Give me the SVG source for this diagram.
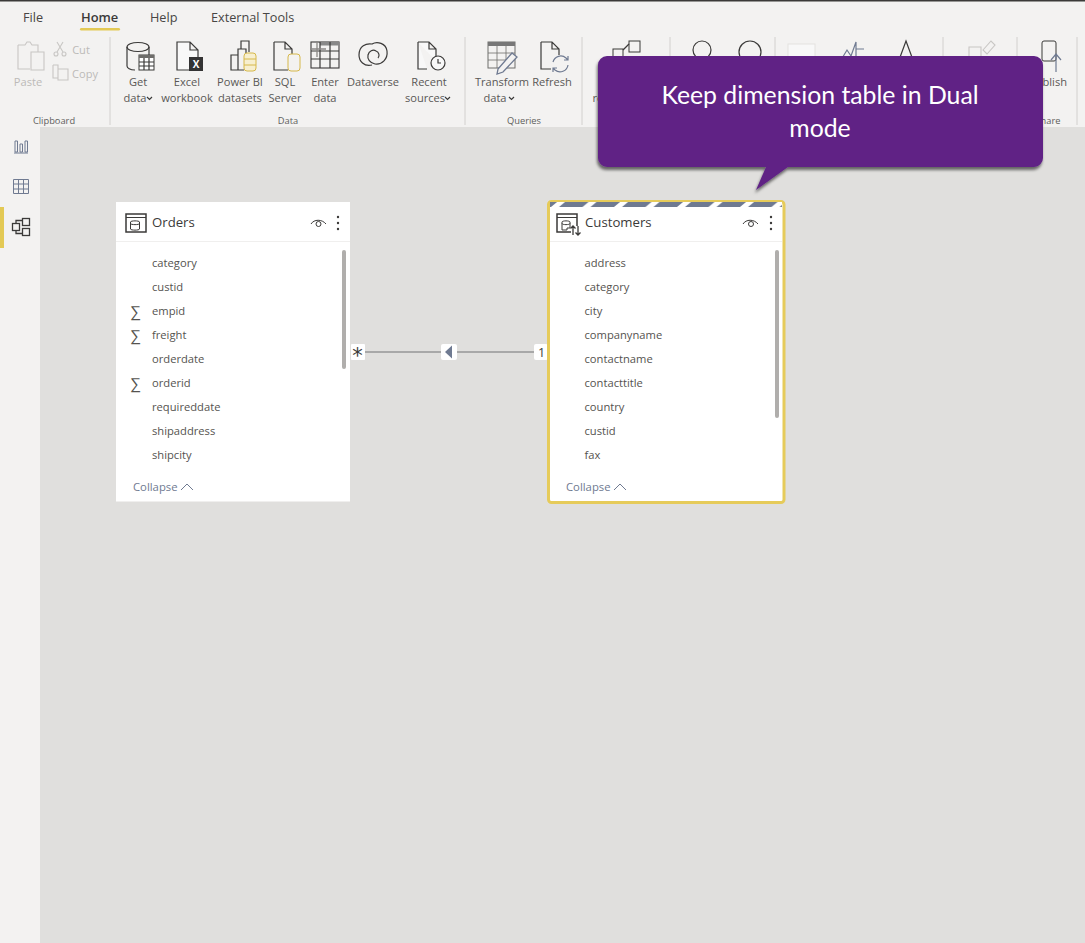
<svg xmlns="http://www.w3.org/2000/svg" width="1085" height="943" viewBox="0 0 1085 943">
<style>
text{font-family:"Open Sans","Noto Sans","Liberation Sans",sans-serif}
.tab{font-size:12.7px;fill:#484644}
.rb{font-size:11.1px;fill:#5a5856;text-anchor:middle}
.dim{font-size:11.1px;fill:#bcbab8;text-anchor:middle}
.grp{font-size:9.3px;fill:#605e5c;text-anchor:middle}
.sep{stroke:#d2d0ce;stroke-width:1}
.ic{fill:none;stroke:#3b3a39;stroke-width:1.2}
.icw{fill:#f8f8f8;stroke:#3b3a39;stroke-width:1.2}
.icd{fill:none;stroke:#c8c6c4;stroke-width:1.1}
.icg{fill:none;stroke:#6f7a91;stroke-width:1.2}
.gold{fill:#f7efcf;stroke:#d6b84a;stroke-width:1}
.title{font-size:13.2px;font-weight:500;fill:#3b3a39}
.f{font-size:11.2px;fill:#55534f}
.col{font-size:11.3px;fill:#6f7a91}
.sig{font-family:"Liberation Sans",sans-serif;font-size:15.5px;fill:#55534f}
.card{fill:#fff}
.bar{fill:#b0aeac}
.lbl{fill:#fff}
</style>
<defs>
<pattern id="stripe" patternUnits="userSpaceOnUse" x="551" y="202" width="31.5" height="5">
<rect width="31.5" height="5" fill="#6f7a91"/>
<polygon points="0,5 6,0 14,0 8,5" fill="#fff"/>
</pattern>
<filter id="sh" x="-5%" y="-10%" width="110%" height="125%">
<feDropShadow dx="-1" dy="3" stdDeviation="1.6" flood-color="#000" flood-opacity="0.55"/>
</filter>
</defs>
<rect id="canvas" width="1085" height="943" fill="#e0dfdd"/>
<rect id="rail" x="0" y="127" width="40" height="816" fill="#f3f2f1"/>
<rect id="ribbon" width="1085" height="127" fill="#f3f2f1"/>
<rect width="1085" height="1.5" fill="#3b3a39"/>
<g id="tabs">
<text class="tab" x="23" y="22">File</text>
<text class="tab" x="81" y="22" style="font-weight:600;fill:#3b3a39;font-size:12.9px">Home</text>
<rect x="80" y="28" width="40" height="2.500" rx="1.2" fill="#e3c955"/>
<text class="tab" x="150" y="22">Help</text>
<text class="tab" x="211" y="22">External Tools</text>
</g>
<g id="separators">
<line class="sep" x1="110" y1="37" x2="110" y2="125"/>
<line class="sep" x1="465" y1="37" x2="465" y2="125"/>
<line class="sep" x1="582" y1="37" x2="582" y2="125"/>
<line class="sep" x1="670" y1="37" x2="670" y2="125"/>
<line class="sep" x1="775" y1="37" x2="775" y2="125"/>
<line class="sep" x1="943" y1="37" x2="943" y2="125"/>
<line class="sep" x1="1017" y1="37" x2="1017" y2="125"/>
<line class="sep" x1="1077" y1="37" x2="1077" y2="125"/>
</g>
<g id="clipboard-group">
<path class="icd" d="M18 45h7l2-3h3l2 3h6v7M18 45v24h12M31 52h13v18h-13z"/>
<path class="icd" d="M57 42l6 10M63 42l-6 10"/><circle class="icd" cx="56" cy="54" r="2"/><circle class="icd" cx="64" cy="54" r="2"/>
<path class="icd" d="M53 65h5v4M53 65v13h5M58 69h10v11h-10z"/>
<text class="dim" x="28" y="86">Paste</text>
<text class="dim" x="81" y="54">Cut</text>
<text class="dim" x="85" y="78">Copy</text>
<text class="grp" x="54" y="124">Clipboard</text>
</g>
<g id="data-group">
<ellipse class="ic" cx="138" cy="47" rx="11" ry="4.500"/>
<path class="ic" d="M127 47v19c0 2 3 4 8 4M149 47v8"/>
<rect x="139" y="55" width="15" height="15" fill="#fff" stroke="#3b3a39"/>
<rect x="139" y="55" width="15" height="3" fill="#6e6d6b"/>
<path class="ic" stroke-width="0.8" d="M144 58v12M149 58v12M139 62h15M139 66h15"/>
<text class="rb" x="138" y="86">Get</text><text class="rb" x="135" y="102">data</text>
<path class="ic" d="M147 97l2.500 2.500 2.500-2.500"/>
<path class="icw" d="M177 42h13l8 8v20h-21z M190 42v8h8"/>
<rect x="189" y="57" width="14" height="14" fill="#333"/>
<text x="196" y="68" style="font-size:10px;font-weight:700;fill:#fff;text-anchor:middle">X</text>
<text class="rb" x="187" y="86">Excel</text><text class="rb" x="187" y="102">workbook</text>
<path class="ic" d="M231 70v-15h7v15zM238 70v-21h8v6M241 49v-8h8v11M231 70h13"/>
<rect class="gold" x="244" y="53" width="12" height="18" rx="3"/>
<path class="gold" d="M244 59h12M244 65h12"/>
<text class="rb" x="240" y="86">Power BI</text><text class="rb" x="240" y="102">datasets</text>
<path class="ic" d="M274 42h11l7 7v5M285 42v7h7M274 42v28h14"/>
<rect x="288" y="54" width="12" height="17" rx="3" fill="#f3f2f1" stroke="#d6b84a"/>
<text class="rb" x="285" y="86">SQL</text><text class="rb" x="285" y="102">Server</text>
<rect x="311" y="42" width="28" height="26" fill="none" stroke="#3b3a39" stroke-width="1.1"/>
<rect x="320" y="42" width="19" height="3.500" fill="#888"/>
<path class="ic" stroke-width="0.9" d="M320 42v26M330 42v26M311 51h28M311 59h28"/>
<path d="M317 41v16M310 49h16" stroke="#8a8886" stroke-width="1.300" fill="none"/>
<text class="rb" x="325" y="86">Enter</text><text class="rb" x="325" y="102">data</text>
<path class="ic" stroke-width="1.600" d="M372 65c-8 2-13-4-13-10 0-9 7-12 13-11 5-3 14-1 15 7 1 8-5 14-12 13-5-1-8-5-7-9 1-4 5-6 8-4 3 1 4 5 2 7"/>
<text class="rb" x="373" y="86">Dataverse</text>
<path class="icw" d="M418 42h11l7 7v12M429 42v7h7M418 42v27h9"/>
<circle class="icw" cx="438" cy="63" r="7"/><path class="ic" d="M438 59v4h3"/>
<text class="rb" x="429" y="86">Recent</text><text class="rb" x="425" y="102">sources</text>
<path class="ic" d="M445 97l2.500 2.500 2.500-2.500"/>
<text class="grp" x="288" y="124">Data</text>
</g>
<g id="queries-group">
<rect x="488" y="42" width="27" height="26" fill="none" stroke="#6f6e6c" stroke-width="1"/>
<rect x="488" y="42" width="27" height="4" fill="#777"/>
<path d="M497 46v22M506 46v22M488 53h27M488 60h27" fill="none" stroke="#6f6e6c" stroke-width="0.8"/>
<path d="M498 69l14-16 5 4-14 15-6 2z" fill="#f3f2f1" stroke="#6f7a91" stroke-width="1.300"/>
<text class="rb" x="502" y="86">Transform</text><text class="rb" x="495" y="102">data</text>
<path class="ic" d="M509 97l2.500 2.500 2.500-2.500"/>
<path class="ic" d="M541 42h11l7 7v6M552 42v7h7M541 42v27h10"/>
<path class="icg" d="M553 62a8 8 0 0 1 13-4l2 2M568 65a8 8 0 0 1-13 5l-2-2M568 56v4h-4M553 72v-4h4"/>
<text class="rb" x="552" y="86">Refresh</text>
<text class="grp" x="524" y="124">Queries</text>
</g>
<g id="covered-ribbon">
<rect x="613" y="49" width="10" height="8" fill="none" stroke="#3b3a39"/>
<rect x="629" y="41" width="11" height="11" fill="none" stroke="#3b3a39"/>
<path class="ic" d="M623 50l6-6"/>
<text class="rb" x="626" y="102">relationships</text>
<circle class="ic" cx="702" cy="50" r="9"/>
<circle class="ic" cx="750" cy="52" r="11"/>
<rect x="788" y="44" width="27" height="14" fill="#f8f8f8" stroke="#e4e2e0"/>
<path class="icg" d="M841 60l6-10 4 6 5-14v18M856 49h8"/>
<path class="ic" stroke-width="1.600" d="M899 60l7-19 7 19"/>
<path class="icd" d="M969 47h12v12h-12zM983 50l8-9 4 4-8 9z"/>
<rect x="1042" y="41" width="14" height="20" rx="2" fill="none" stroke="#3b3a39"/>
<path class="icg" d="M1056 72v-18M1051 60l5-6 5 6"/>
<text class="rb" x="1048" y="86">Publish</text>
<text class="grp" x="1048" y="124">Share</text>
</g>
<g id="view-rail">
<rect x="0" y="207" width="4" height="41" fill="#e3c955"/>
<path d="M14 153h14M15 152v-11h2.500v11zM20 152v-8h2.500v8zM25 152v-11h2.500v11z" fill="none" stroke="#6f7a91" stroke-width="1"/>
<path d="M13.500 179.500h15v14h-15zM13.500 184h15M13.500 189h15M18.500 179.500v14M23.500 179.500v14" fill="none" stroke="#6f7a91"/>
<g fill="none" stroke="#3b3a39" stroke-width="1.300"><rect x="12.500" y="223.500" width="7" height="7"/><rect x="22.500" y="218.500" width="7" height="7"/><rect x="22.500" y="228.500" width="7" height="7"/><path d="M16 223.500v-3h6.500M16 230.500v3h6.500"/></g>
</g>
<g id="connectors">
<line x1="365" y1="352" x2="534" y2="352" stroke="#a8a8a8" stroke-width="2"/>
<rect class="lbl" x="351" y="344" width="14" height="16" rx="1"/>
<text x="357.500" y="363" style="font-size:21px;fill:#3b3a39;text-anchor:middle;font-family:'DejaVu Sans',sans-serif">*</text>
<rect class="lbl" x="441" y="344" width="16" height="16" rx="2"/>
<polygon points="445,352 452,345.500 452,358.500" fill="#6f7a91"/>
<rect class="lbl" x="534" y="344" width="14" height="16" rx="2"/>
<text x="541.500" y="357" style="font-size:12.500px;fill:#3b3a39;text-anchor:middle">1</text>
</g>
<g id="orders">
<rect class="card" x="116" y="202" width="234" height="299.500"/>
<line x1="116" y1="241.500" x2="350" y2="241.500" stroke="#f0efee"/>
<rect x="126" y="214" width="20" height="18" fill="none" stroke="#3b3a39" stroke-width="1.500"/>
<path d="M126 217.500h20" stroke="#3b3a39" fill="none"/>
<path d="M130.500 222c0-1.500 9-1.500 9 0v7c0 1.500-9 1.500-9 0zM130.500 223.500c0 1.500 9 1.500 9 0" fill="none" stroke="#3b3a39"/>
<text class="title" x="152" y="227">Orders</text>
<path d="M311 224c3-5 11-5 15 0" fill="none" stroke="#3b3a39"/><circle cx="318.500" cy="224" r="2.500" fill="none" stroke="#3b3a39"/>
<circle cx="338" cy="217" r="1.200" fill="#3b3a39"/><circle cx="338" cy="223" r="1.200" fill="#3b3a39"/><circle cx="338" cy="229" r="1.200" fill="#3b3a39"/>
<rect class="bar" x="342" y="250" width="4" height="119" rx="2"/>
<text class="f" x="152" y="267">category</text>
<text class="f" x="152" y="291">custid</text>
<text class="sig" x="130" y="317">∑</text><text class="f" x="152" y="315">empid</text>
<text class="sig" x="130" y="341">∑</text><text class="f" x="152" y="339">freight</text>
<text class="f" x="152" y="363">orderdate</text>
<text class="sig" x="130" y="389">∑</text><text class="f" x="152" y="387">orderid</text>
<text class="f" x="152" y="411">requireddate</text>
<text class="f" x="152" y="435">shipaddress</text>
<text class="f" x="152" y="459">shipcity</text>
<text class="col" x="133" y="491">Collapse</text>
<path d="M181 490l6-6 6 6" fill="none" stroke="#6f7a91"/>
</g>
<g id="customers">
<rect class="card" x="548.500" y="201.500" width="235.500" height="301" rx="3" stroke="#e6cb5a" stroke-width="3"/>
<rect x="550" y="202" width="232" height="5" fill="url(#stripe)"/>
<line x1="550" y1="241.500" x2="782" y2="241.500" stroke="#f0efee"/>
<path d="M571 232h-14v-18h20v12" fill="none" stroke="#3b3a39" stroke-width="1.500"/>
<path d="M557 217.500h20" stroke="#3b3a39" fill="none"/>
<path d="M562 222c0-1.500 8-1.500 8 0v6h-3v2h-5zM562 223.500c0 1.500 8 1.500 8 0" fill="none" stroke="#3b3a39"/>
<path d="M573 235v-9M570.500 228.500l2.500-2.500 2.500 2.500M578 226v9M575.500 232.500l2.500 2.500 2.500-2.500" fill="none" stroke="#3b3a39" stroke-width="1.300"/>
<text class="title" x="585" y="227">Customers</text>
<path d="M743 224c3-5 11-5 15 0" fill="none" stroke="#3b3a39"/><circle cx="751" cy="224" r="2.500" fill="none" stroke="#3b3a39"/>
<circle cx="771" cy="217" r="1.200" fill="#3b3a39"/><circle cx="771" cy="223" r="1.200" fill="#3b3a39"/><circle cx="771" cy="229" r="1.200" fill="#3b3a39"/>
<rect class="bar" x="775" y="250" width="4" height="168" rx="2"/>
<text class="f" x="584.500" y="267">address</text>
<text class="f" x="584.500" y="291">category</text>
<text class="f" x="584.500" y="315">city</text>
<text class="f" x="584.500" y="339">companyname</text>
<text class="f" x="584.500" y="363">contactname</text>
<text class="f" x="584.500" y="387">contacttitle</text>
<text class="f" x="584.500" y="411">country</text>
<text class="f" x="584.500" y="435">custid</text>
<text class="f" x="584.500" y="459">fax</text>
<text class="col" x="566" y="491">Collapse</text>
<path d="M614 490l6-6 6 6" fill="none" stroke="#6f7a91"/>
</g>
<g id="callout">
<path d="M607 56H1034a9 9 0 0 1 9 9V158a9 9 0 0 1-9 9H788L756 190 766 167H607a9 9 0 0 1-9-9V65a9 9 0 0 1 9-9z" fill="#602485" filter="url(#sh)"/>
<text x="820" y="104" style="font-family:Lato,'Open Sans',sans-serif;font-size:24.800px;fill:#fff;text-anchor:middle">Keep dimension table in Dual</text>
<text x="820" y="137" style="font-family:Lato,'Open Sans',sans-serif;font-size:24.800px;fill:#fff;text-anchor:middle">mode</text>
</g>
</svg>
